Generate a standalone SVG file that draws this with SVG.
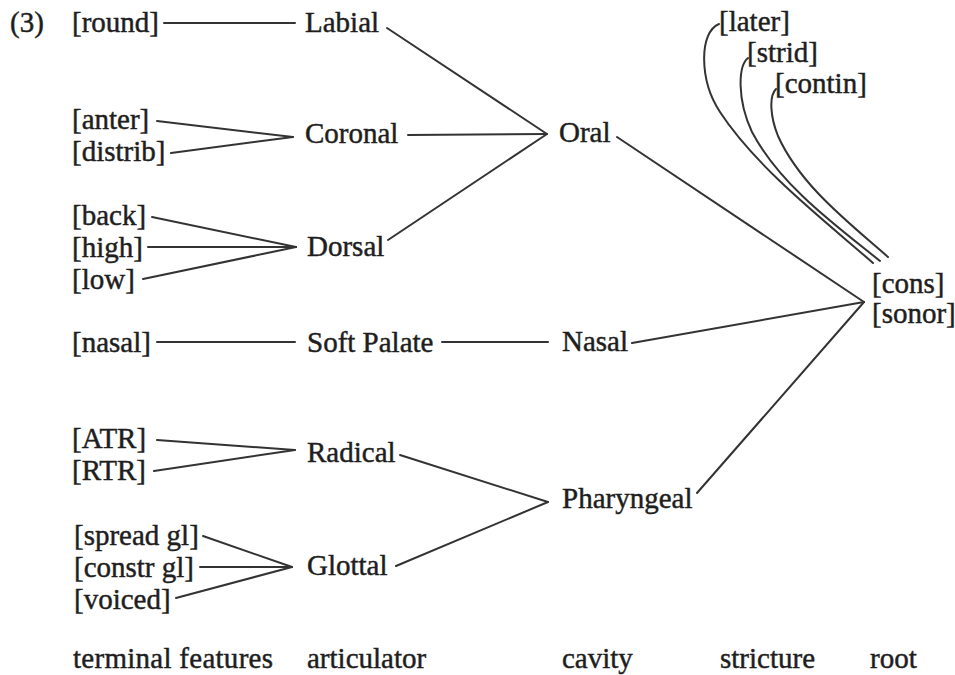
<svg xmlns="http://www.w3.org/2000/svg" width="955" height="675" viewBox="0 0 955 675">
<style>
text{font-family:"Liberation Serif","Times New Roman",serif;font-size:29px;fill:#1e1e1e;stroke:#1e1e1e;stroke-width:0.45}
.c line,.c path{stroke:#333;stroke-width:2;fill:none;stroke-linecap:round}
</style>
<rect width="955" height="675" fill="#fff"/>
<g id="label-3"><text x="10" y="32" font-size="24">(3)</text></g>
<g id="round"><text x="72" y="32">[round]</text></g>
<g id="anter"><text x="72" y="129">[anter]</text></g>
<g id="distrib"><text x="72" y="161">[distrib]</text></g>
<g id="back"><text x="72" y="225">[back]</text></g>
<g id="high"><text x="72" y="257">[high]</text></g>
<g id="low"><text x="72" y="289">[low]</text></g>
<g id="nasal-f"><text x="72" y="352">[nasal]</text></g>
<g id="atr"><text x="72" y="448">[ATR]</text></g>
<g id="rtr"><text x="72" y="480">[RTR]</text></g>
<g id="spread"><text x="74" y="545">[spread gl]</text></g>
<g id="constr"><text x="74" y="577">[constr gl]</text></g>
<g id="voiced"><text x="74" y="609">[voiced]</text></g>
<g id="labial"><text x="305" y="32">Labial</text></g>
<g id="coronal"><text x="305" y="143">Coronal</text></g>
<g id="dorsal"><text x="307" y="256">Dorsal</text></g>
<g id="softpalate"><text x="307" y="352">Soft Palate</text></g>
<g id="radical"><text x="307" y="462">Radical</text></g>
<g id="glottal"><text x="307" y="575">Glottal</text></g>
<g id="oral"><text x="559" y="142">Oral</text></g>
<g id="nasal"><text x="562" y="351">Nasal</text></g>
<g id="pharyngeal"><text x="562" y="508">Pharyngeal</text></g>
<g id="later"><text x="719" y="31">[later]</text></g>
<g id="strid"><text x="747" y="62">[strid]</text></g>
<g id="contin"><text x="775" y="93">[contin]</text></g>
<g id="root"><text x="872" y="293">[cons]</text><text x="872" y="323">[sonor]</text></g>
<g id="col-labels">
<text x="73" y="668" textLength="200">terminal features</text>
<text x="307" y="668">articulator</text>
<text x="562" y="668">cavity</text>
<text x="720" y="668">stricture</text>
<text x="870" y="668">root</text>
</g>
<g class="c" id="connectors">
<line x1="164" y1="23" x2="295" y2="23"/>
<line x1="157" y1="121" x2="293" y2="137"/>
<line x1="171" y1="153" x2="293" y2="137"/>
<line x1="152" y1="217" x2="296" y2="247"/>
<line x1="148" y1="247" x2="296" y2="247"/>
<line x1="143" y1="279" x2="296" y2="247"/>
<line x1="157" y1="342" x2="295" y2="342"/>
<line x1="157" y1="440" x2="295" y2="450"/>
<line x1="154" y1="471" x2="295" y2="450"/>
<line x1="203" y1="536" x2="292" y2="567"/>
<line x1="200" y1="567" x2="292" y2="567"/>
<line x1="176" y1="598" x2="292" y2="567"/>
<line x1="387" y1="28" x2="547" y2="134"/>
<line x1="408" y1="135" x2="547" y2="134"/>
<line x1="388" y1="240" x2="547" y2="134"/>
<line x1="442" y1="342" x2="548" y2="342"/>
<line x1="400" y1="455" x2="548" y2="502"/>
<line x1="396" y1="566" x2="548" y2="502"/>
<line x1="617" y1="137" x2="864" y2="302"/>
<line x1="632" y1="343" x2="864" y2="302"/>
<line x1="697" y1="493" x2="864" y2="302"/>
<path d="M719,24 C699,32 699,80 720,112 C758,170 830,225 873,263"/>
<path d="M748,58 C738,66 737,100 752,132 C780,185 835,225 880,261"/>
<path d="M776,89 C769,96 770,116 778,136 C800,185 848,222 888,257"/>
</g>
</svg>
